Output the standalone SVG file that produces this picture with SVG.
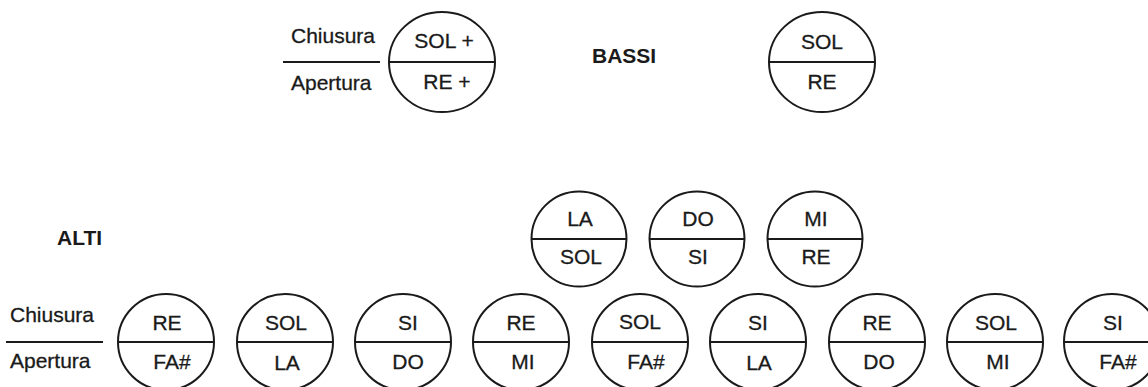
<svg xmlns="http://www.w3.org/2000/svg" width="1148" height="387" viewBox="0 0 1148 387">
<style>
.c{fill:none;stroke:#1a1a1a;stroke-width:2}
.l{stroke:#1a1a1a;stroke-width:2}
.t{font-family:"Liberation Sans",Arial,sans-serif;font-size:21px;fill:#1a1a1a;stroke:#1a1a1a;stroke-width:0.3;text-anchor:middle}
.lab{font-family:"Liberation Sans",Arial,sans-serif;font-size:21px;fill:#1a1a1a;stroke:#1a1a1a;stroke-width:0.3}
.b{font-family:"Liberation Sans",Arial,sans-serif;font-size:21px;font-weight:bold;fill:#1a1a1a}
</style>
<rect width="1148" height="387" fill="#fff"/>
<g id="legend-top">
<text class="lab" x="291" y="43">Chiusura</text>
<line class="l" x1="283" y1="62" x2="380" y2="62"/>
<text class="lab" x="291" y="90">Apertura</text>
</g>
<g id="bassi-1">
<ellipse class="c" cx="442" cy="62" rx="53" ry="50"/>
<line class="l" x1="389" y1="62" x2="495" y2="62"/>
<text class="t" x="444" y="48">SOL +</text>
<text class="t" x="447" y="89">RE +</text>
</g>
<g id="bassi-label"><text class="b" x="592" y="63">BASSI</text></g>
<g id="bassi-2">
<ellipse class="c" cx="822" cy="62" rx="53" ry="50"/>
<line class="l" x1="769" y1="62" x2="875" y2="62"/>
<text class="t" x="822" y="49">SOL</text>
<text class="t" x="822" y="89">RE</text>
</g>
<g id="alti-label"><text class="b" x="57" y="245">ALTI</text></g>
<g id="alti-m1">
<circle class="c" cx="579" cy="239" r="47.5"/>
<line class="l" x1="531.5" y1="239" x2="626.5" y2="239"/>
<text class="t" x="580" y="226">LA</text>
<text class="t" x="581" y="264">SOL</text>
</g>
<g id="alti-m2">
<circle class="c" cx="697" cy="239" r="47.5"/>
<line class="l" x1="649.5" y1="239" x2="744.5" y2="239"/>
<text class="t" x="698" y="226">DO</text>
<text class="t" x="698" y="264">SI</text>
</g>
<g id="alti-m3">
<circle class="c" cx="815" cy="239" r="47.5"/>
<line class="l" x1="767.5" y1="239" x2="862.5" y2="239"/>
<text class="t" x="816" y="226">MI</text>
<text class="t" x="816" y="264">RE</text>
</g>
<g id="legend-bottom">
<text class="lab" x="10" y="322">Chiusura</text>
<line class="l" x1="6" y1="342" x2="103" y2="342"/>
<text class="lab" x="10" y="368">Apertura</text>
</g>
<g id="alti-b1">
<circle class="c" cx="166" cy="342" r="48"/>
<line class="l" x1="118" y1="342" x2="214" y2="342"/>
<text class="t" x="167" y="330">RE</text>
<text class="t" x="172" y="369">FA#</text>
</g>
<g id="alti-b2">
<circle class="c" cx="285" cy="342" r="48"/>
<line class="l" x1="237" y1="342" x2="333" y2="342"/>
<text class="t" x="286" y="330">SOL</text>
<text class="t" x="287" y="370">LA</text>
</g>
<g id="alti-b3">
<circle class="c" cx="403" cy="342" r="48"/>
<line class="l" x1="355" y1="342" x2="451" y2="342"/>
<text class="t" x="408" y="330">SI</text>
<text class="t" x="408" y="369">DO</text>
</g>
<g id="alti-b4">
<circle class="c" cx="521" cy="342" r="48"/>
<line class="l" x1="473" y1="342" x2="569" y2="342"/>
<text class="t" x="521" y="330">RE</text>
<text class="t" x="523" y="369">MI</text>
</g>
<g id="alti-b5">
<circle class="c" cx="640" cy="342" r="48"/>
<line class="l" x1="592" y1="342" x2="688" y2="342"/>
<text class="t" x="640" y="329">SOL</text>
<text class="t" x="646" y="369">FA#</text>
</g>
<g id="alti-b6">
<circle class="c" cx="758" cy="342" r="48"/>
<line class="l" x1="710" y1="342" x2="806" y2="342"/>
<text class="t" x="758" y="330">SI</text>
<text class="t" x="759" y="370">LA</text>
</g>
<g id="alti-b7">
<circle class="c" cx="877" cy="342" r="48"/>
<line class="l" x1="829" y1="342" x2="925" y2="342"/>
<text class="t" x="877" y="330">RE</text>
<text class="t" x="879" y="369">DO</text>
</g>
<g id="alti-b8">
<circle class="c" cx="995" cy="342" r="48"/>
<line class="l" x1="947" y1="342" x2="1043" y2="342"/>
<text class="t" x="996" y="330">SOL</text>
<text class="t" x="998" y="369">MI</text>
</g>
<g id="alti-b9">
<circle class="c" cx="1112" cy="342" r="48"/>
<line class="l" x1="1064" y1="342" x2="1160" y2="342"/>
<text class="t" x="1113" y="330">SI</text>
<text class="t" x="1118" y="369">FA#</text>
</g>
<g id="connectors"/>
</svg>
